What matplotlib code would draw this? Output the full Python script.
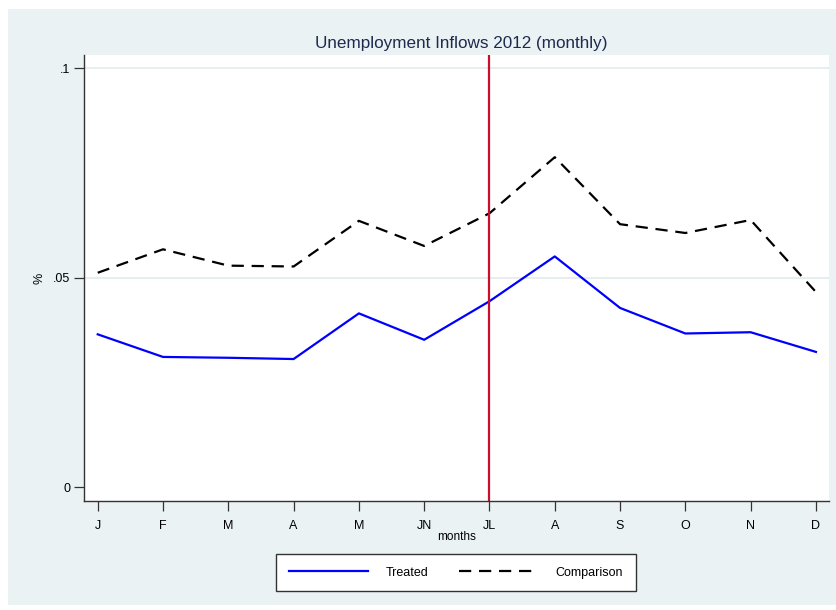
import numpy as np
import matplotlib
matplotlib.use("Agg")
import matplotlib.pyplot as plt
from matplotlib.patches import Rectangle

plt.rcParams['font.family'] = ['Liberation Sans', 'DejaVu Sans']

months = ['J', 'F', 'M', 'A', 'M', 'JN', 'JL', 'A', 'S', 'O', 'N', 'D']
treated = [0.0365, 0.0311, 0.0309, 0.0306, 0.0415, 0.0352,
           0.0444, 0.0551, 0.0428, 0.0367, 0.0370, 0.0323]
comparison = [0.0512, 0.0568, 0.0529, 0.0527, 0.0636, 0.0576,
              0.0654, 0.0788, 0.0628, 0.0607, 0.0638, 0.0466]
policy_month = 6  # JL
yticks = [0, 0.05, 0.1]
yticklabels = ['0', '.05', '.1']

W, H = 837, 610
fig = plt.figure(figsize=(W / 100, H / 100), dpi=100)
fig.patch.set_facecolor('white')
bg = '#eaf2f3'
fig.patches.append(Rectangle((8 / W, 5 / H), 1 - 8 / W, 1 - 14 / H,
                             transform=fig.transFigure, facecolor=bg,
                             edgecolor='none', zorder=-10))

ax = fig.add_axes([84 / W, 1 - 501 / H, (829 - 84) / W, (501 - 55) / H])
ax.set_facecolor('white')

x = np.arange(len(months))
ax.plot(x, treated, color='#0000ff', lw=1.6, label='Treated')
ax.plot(x, comparison, color='black', lw=1.6, dashes=(5.5, 3.5), label='Comparison')
ax.axvline(policy_month, color='#c8102e', lw=1.6)

ax.set_xlim(-0.21, 11.2)
ax.set_ylim(-0.0033, 0.1032)
ax.set_xticks(x)
ax.set_xticklabels(months)
ax.set_yticks(yticks)
ax.set_yticklabels(yticklabels)
for v in yticks[1:]:
    ax.axhline(v, color='#e6eef0', lw=1.4, zorder=0)

for s in ['top', 'right']:
    ax.spines[s].set_visible(False)
for s in ['left', 'bottom']:
    ax.spines[s].set_color('#333333')
    ax.spines[s].set_linewidth(1.0)
ax.tick_params(axis='both', direction='out', length=7, width=0.9,
               color='#333333', labelsize=9, labelcolor='black')
ax.tick_params(axis='x', pad=7)
ax.tick_params(axis='y', pad=3)

ax.set_xlabel('months', fontsize=8.5, labelpad=-1)
ax.set_ylabel('%', fontsize=9, labelpad=5)
ax.set_title('Unemployment Inflows 2012 (monthly)', fontsize=12.3,
             color='#1e2a4f', pad=5, x=0.507)

leg = fig.legend(loc='center', bbox_to_anchor=(456 / W, 1 - 572.7 / H), ncol=2,
                 fontsize=9, handlelength=6.3, handletextpad=1.4,
                 columnspacing=2.5, borderpad=1.0, fancybox=False,
                 edgecolor='#333333', framealpha=1)
leg.get_frame().set_linewidth(1.0)

fig.savefig('out.png', dpi=100, facecolor=fig.get_facecolor())
